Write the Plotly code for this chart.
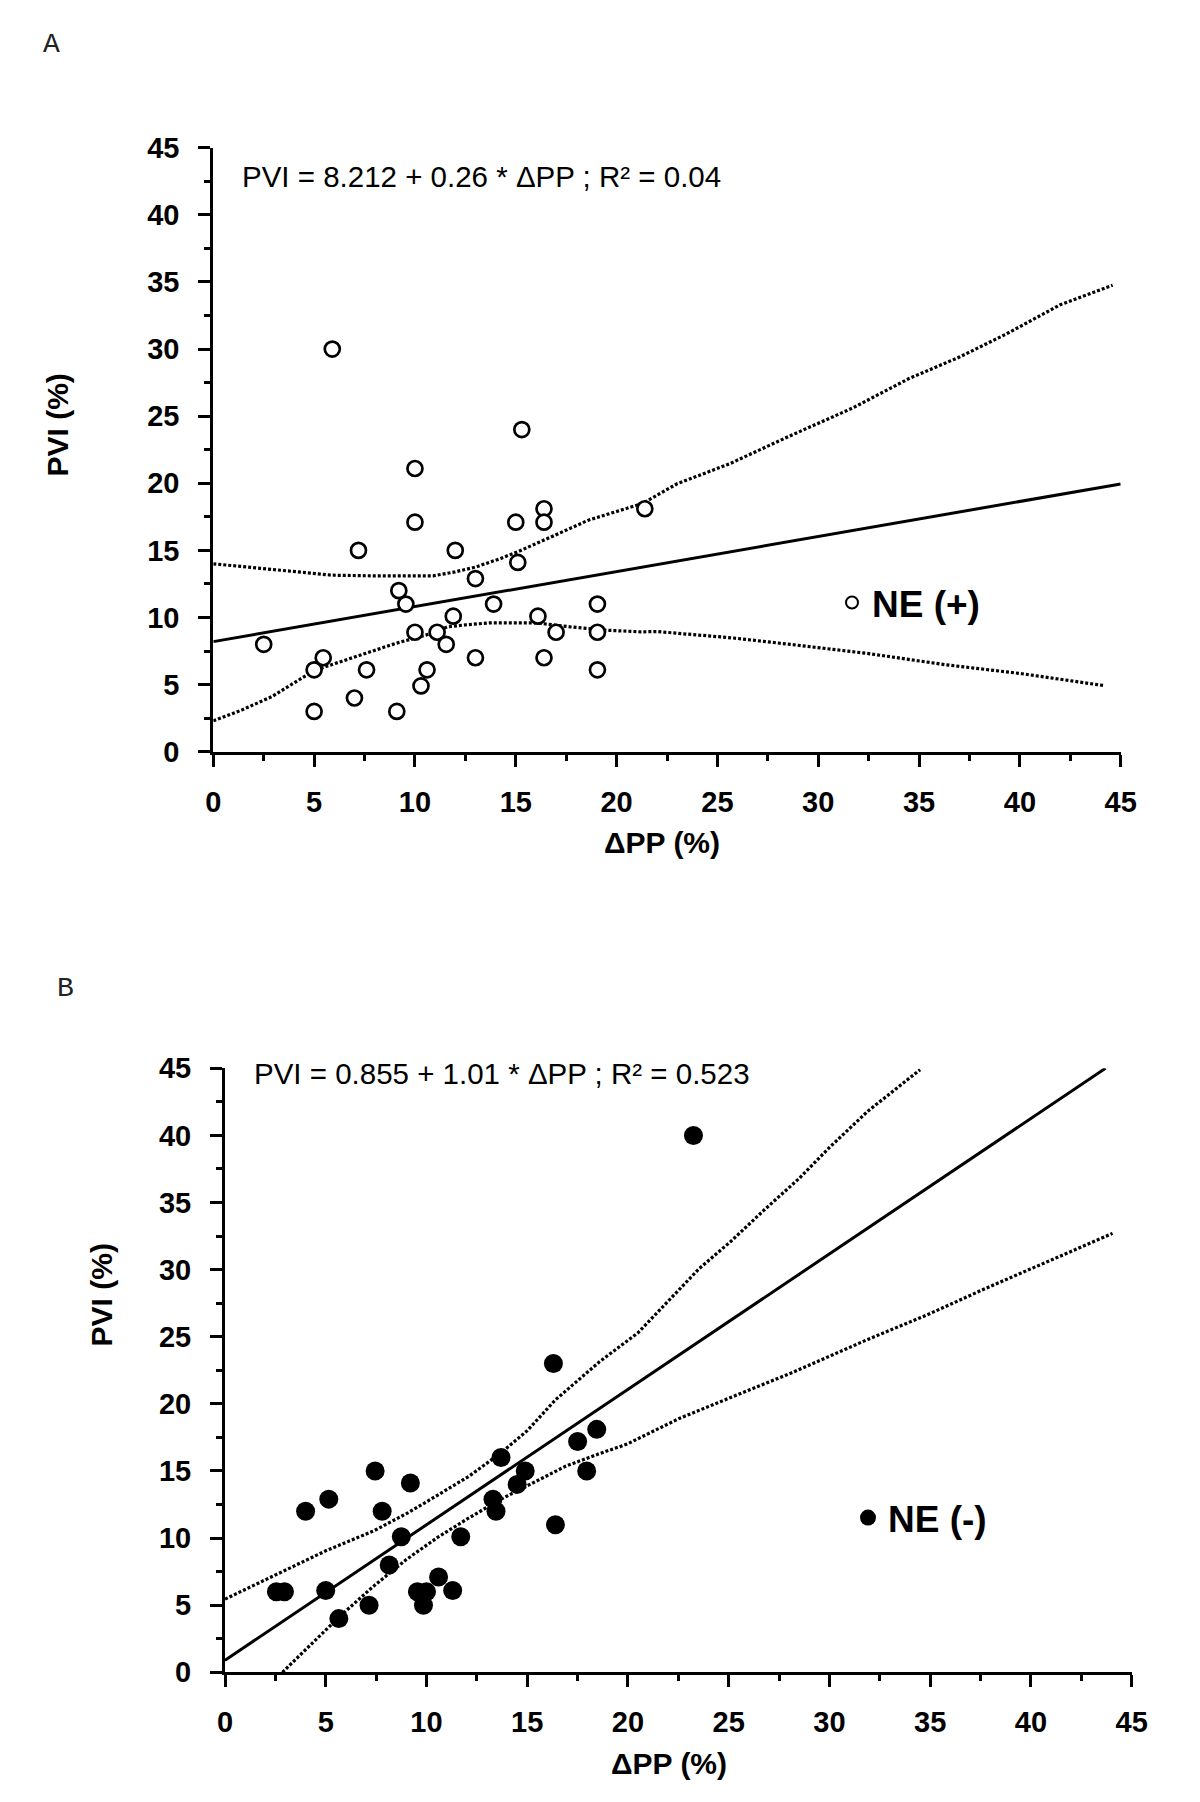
import plotly.graph_objects as go

# ---------------- Panel A : NE (+) ----------------
a_dpp = [5.9, 2.5, 5.0, 5.45, 5.0, 7.2, 7.6, 7.0, 9.1, 9.2, 9.55, 10.0, 10.0, 10.0,
         10.3, 10.6, 11.1, 11.55, 11.9, 12.0, 13.0, 13.0, 13.9, 15.0, 15.1, 15.3,
         16.1, 16.4, 16.4, 16.4, 17.0, 19.05, 19.05, 19.05, 21.4]
a_pvi = [30, 8, 6.1, 7, 3, 15, 6.1, 4, 3, 12, 11, 21.1, 17.1, 8.9,
         4.9, 6.1, 8.9, 8, 10.1, 15, 12.9, 7, 11, 17.1, 14.1, 24,
         10.1, 18.1, 17.1, 7, 8.9, 11, 8.9, 6.1, 18.1]
a_fit_x = [0, 45]
a_fit_y = [8.2, 19.95]
a_up_x = [0, 1.4, 2.75, 4.15, 5.9, 8.0, 10.9, 12.0, 13.0, 14.25, 15.1, 16.9, 18.6,
          21.3, 23.0, 25.6, 28.7, 31.7, 34.5, 37.0, 39.3, 42.0, 44.6]
a_up_y = [14.0, 13.8, 13.55, 13.35, 13.15, 13.1, 13.1, 13.4, 13.75, 14.4, 14.9, 16.1,
          17.25, 18.5, 19.96, 21.45, 23.6, 25.6, 27.8, 29.4, 31.1, 33.3, 34.75]
a_lo_x = [0, 1.4, 2.9, 5.0, 7.3, 9.0, 10.8, 11.6, 12.5, 13.7, 16.0, 17.7, 19.5,
          21.2, 22.0, 25.8, 28.7, 32.5, 36.3, 40.1, 44.2]
a_lo_y = [2.3, 3.1, 4.1, 6.05, 7.2, 8.05, 8.8, 9.3, 9.45, 9.6, 9.6, 9.3, 9.05,
          8.93, 8.95, 8.47, 7.98, 7.31, 6.48, 5.81, 4.92]
a_eq = "PVI = 8.212 + 0.26 * ΔPP ; R² = 0.04"
a_name = "NE (+)"

# ---------------- Panel B : NE (-) ----------------
b_dpp = [2.55, 2.95, 4.0, 5.0, 5.15, 5.65, 7.15, 7.45, 7.8, 8.15, 8.75, 9.2, 9.55,
         9.85, 10.0, 10.6, 11.3, 11.7, 13.3, 13.45, 13.7, 14.5, 14.9, 16.3, 16.4,
         17.5, 17.95, 18.45, 23.25]
b_pvi = [6, 6, 12, 6.1, 12.9, 4, 5, 15, 12, 8, 10.1, 14.1, 6,
         5, 6, 7.1, 6.1, 10.1, 12.9, 12, 16, 14, 15, 23, 11,
         17.2, 15, 18.1, 40]
b_fit_x = [0, 43.7]
b_fit_y = [0.9, 45]
b_up_x = [0, 2.6, 5.0, 7.4, 9.1, 10.5, 12.1, 13.7, 15.0, 16.4, 18.6, 20.5, 23.55,
          25.1, 26.8, 28.5, 30.0, 31.9, 34.5]
b_up_y = [5.45, 7.3, 9.05, 10.55, 11.9, 13.15, 14.6, 16.35, 18.0, 20.3, 23.15, 25.3,
          30.1, 32.1, 34.5, 36.8, 39.1, 41.8, 44.9]
b_lo_x = [2.85, 4.2, 5.65, 7.4, 9.0, 10.55, 12.1, 13.7, 15.3, 16.9, 18.6, 19.95,
          22.6, 24.3, 28.1, 31.9, 34.8, 37.6, 44.05]
b_lo_y = [0, 2.0, 4.1, 6.45, 8.4, 10.05, 11.5, 12.9, 14.1, 15.35, 16.3, 17.0,
          18.95, 20.0, 22.3, 24.8, 26.6, 28.5, 32.7]
b_eq = "PVI = 0.855 + 1.01 * ΔPP ; R² = 0.523"
b_name = "NE (-)"

ticks = [0, 5, 10, 15, 20, 25, 30, 35, 40, 45]
x_title = "ΔPP (%)"
y_title = "PVI (%)"

W, H = 1200, 1802
FONT = "Liberation Sans, Arial, sans-serif"

fig = go.Figure()

band = dict(color="black", width=3.2, dash="3px,2px")
solid = dict(color="black", width=3)

# Panel A traces
fig.add_trace(go.Scatter(x=a_up_x, y=a_up_y, mode="lines", line=band, showlegend=False,
                         xaxis="x", yaxis="y"))
fig.add_trace(go.Scatter(x=a_lo_x, y=a_lo_y, mode="lines", line=band, showlegend=False,
                         xaxis="x", yaxis="y"))
fig.add_trace(go.Scatter(x=a_fit_x, y=a_fit_y, mode="lines", line=solid, showlegend=False,
                         xaxis="x", yaxis="y"))
fig.add_trace(go.Scatter(x=a_dpp, y=a_pvi, mode="markers", name=a_name,
                         marker=dict(symbol="circle", size=15, color="white",
                                     line=dict(color="black", width=2.7)),
                         xaxis="x", yaxis="y", legend="legend"))

# Panel B traces
fig.add_trace(go.Scatter(x=b_up_x, y=b_up_y, mode="lines", line=band, showlegend=False,
                         xaxis="x2", yaxis="y2"))
fig.add_trace(go.Scatter(x=b_lo_x, y=b_lo_y, mode="lines", line=band, showlegend=False,
                         xaxis="x2", yaxis="y2"))
fig.add_trace(go.Scatter(x=b_fit_x, y=b_fit_y, mode="lines", line=solid, showlegend=False,
                         xaxis="x2", yaxis="y2"))
fig.add_trace(go.Scatter(x=b_dpp, y=b_pvi, mode="markers", name=b_name,
                         marker=dict(symbol="circle", size=19, color="black",
                                     line=dict(width=0)),
                         xaxis="x2", yaxis="y2", legend="legend2"))

tickfont = dict(family=FONT, size=29, color="black", weight="bold")
axis_common = dict(range=[0, 45], tickvals=ticks, showgrid=False, zeroline=False,
                   showline=True, linecolor="black", linewidth=3, automargin=False,
                   ticks="outside", ticklen=12, tickwidth=3, tickcolor="black",
                   tickfont=tickfont, fixedrange=True,
                   minor=dict(ticks="outside", ticklen=6, tickwidth=3, tickcolor="black",
                              dtick=2.5, tick0=0, showgrid=False))


def px_x(v):
    return v / W


def px_y(v):
    return (H - v) / H


fig.update_layout(
    width=W, height=H,
    margin=dict(l=0, r=0, t=0, b=0, autoexpand=False),
    paper_bgcolor="white", plot_bgcolor="white",
    xaxis=dict(domain=[px_x(213.3), px_x(1120.7)], anchor="y", ticklabelstandoff=10,
               **axis_common),
    yaxis=dict(domain=[px_y(751.7), px_y(147.7)], anchor="x", ticklabelstandoff=13,
               **axis_common),
    xaxis2=dict(domain=[px_x(225), px_x(1131.7)], anchor="y2", ticklabelstandoff=10,
                **axis_common),
    yaxis2=dict(domain=[px_y(1672.3), px_y(1068.3)], anchor="x2", ticklabelstandoff=13,
                **axis_common),
    legend=dict(x=px_x(832), y=px_y(603), xanchor="left", yanchor="middle",
                font=dict(family=FONT, size=37, color="black", weight="bold"),
                bgcolor="rgba(0,0,0,0)", borderwidth=0, itemsizing="constant"),
    legend2=dict(x=px_x(848), y=px_y(1518), xanchor="left", yanchor="middle",
                 font=dict(family=FONT, size=37, color="black", weight="bold"),
                 bgcolor="rgba(0,0,0,0)", borderwidth=0, itemsizing="trace"),
)

ann = []
# equations
ann.append(dict(text=a_eq, x=px_x(240), y=px_y(176.7), xref="paper", yref="paper",
                xanchor="left", yanchor="middle", showarrow=False,
                font=dict(family=FONT, size=29.5, color="black")))
ann.append(dict(text=b_eq, x=px_x(251.7), y=px_y(1073.3), xref="paper", yref="paper",
                xanchor="left", yanchor="middle", showarrow=False,
                font=dict(family=FONT, size=29.5, color="black")))
# axis titles
title_font = dict(family=FONT, size=30, color="black", weight="bold")
ann.append(dict(text=y_title, x=px_x(57.5), y=px_y(425), xref="paper", yref="paper",
                textangle=-90, showarrow=False, xanchor="center", yanchor="middle",
                font=title_font))
ann.append(dict(text=y_title, x=px_x(101), y=px_y(1295.4), xref="paper", yref="paper",
                textangle=-90, showarrow=False, xanchor="center", yanchor="middle",
                font=title_font))
ann.append(dict(text=x_title, x=px_x(662), y=px_y(843), xref="paper", yref="paper",
                showarrow=False, xanchor="center", yanchor="middle", font=title_font))
ann.append(dict(text=x_title, x=px_x(669), y=px_y(1763), xref="paper", yref="paper",
                showarrow=False, xanchor="center", yanchor="middle", font=title_font))
# panel letters
panel_font = dict(family="Courier New, Liberation Mono, monospace", size=28, color="#222")
ann.append(dict(text="A", x=px_x(51.7), y=px_y(45), xref="paper", yref="paper",
                showarrow=False, xanchor="center", yanchor="middle", font=panel_font))
ann.append(dict(text="B", x=px_x(65.5), y=px_y(988.5), xref="paper", yref="paper",
                showarrow=False, xanchor="center", yanchor="middle", font=panel_font))
fig.update_layout(annotations=ann)

fig.write_html("out.html",
               config={"displayModeBar": False},
               post_script="document.body.style.margin='0px';"
                           "document.body.style.overflow='hidden';")
